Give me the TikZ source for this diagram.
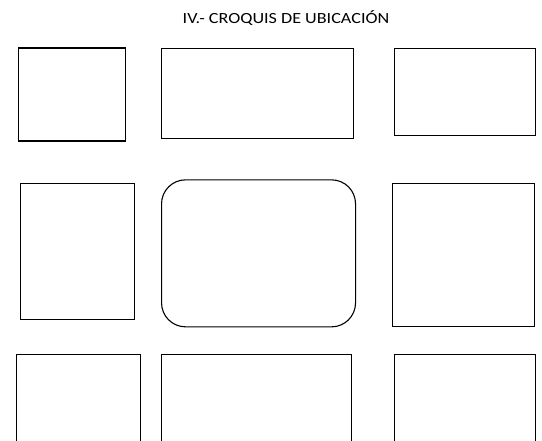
\documentclass[tikz,border=0pt]{standalone}
\usepackage{fontspec}
\setmainfont{Carlito}
\begin{document}
\begin{tikzpicture}[x=1pt,y=-1pt,
  box/.style={draw=black,line width=1.1pt,rectangle,inner sep=0pt,anchor=north west},
  rbox/.style={box,rounded corners=24pt},
  title/.style={font=\fontsize{15.5}{18}\selectfont,inner sep=0pt}]
\useasboundingbox (0,0) rectangle (542,441);
\clip (0,0) rectangle (542,441);
\node[title] (t) at (286,18.5) {\scalebox{1.17}[1]{IV.- CROQUIS DE UBICACIÓN}};
% row 1
\node[box,minimum width=107pt,minimum height=93pt] (a1) at (17.5,47.5) {};
\node[box,minimum width=192pt,minimum height=89.5pt] (a2) at (161,48.3) {};
\node[box,minimum width=141pt,minimum height=87pt] (a3) at (394,48.3) {};
% row 2
\node[box,minimum width=114.5pt,minimum height=136pt] (b1) at (19.8,183) {};
\node[rbox,minimum width=194pt,minimum height=147pt] (b2) at (161,179.3) {};
\node[box,minimum width=141.5pt,minimum height=143pt] (b3) at (392,183) {};
% row 3 (cut off at the bottom)
\node[box,minimum width=124.5pt,minimum height=110pt] (c1) at (15.7,354) {};
\node[box,minimum width=190pt,minimum height=110pt] (c2) at (161,354) {};
\node[box,minimum width=141pt,minimum height=110pt] (c3) at (394,354) {};
\end{tikzpicture}
\end{document}
